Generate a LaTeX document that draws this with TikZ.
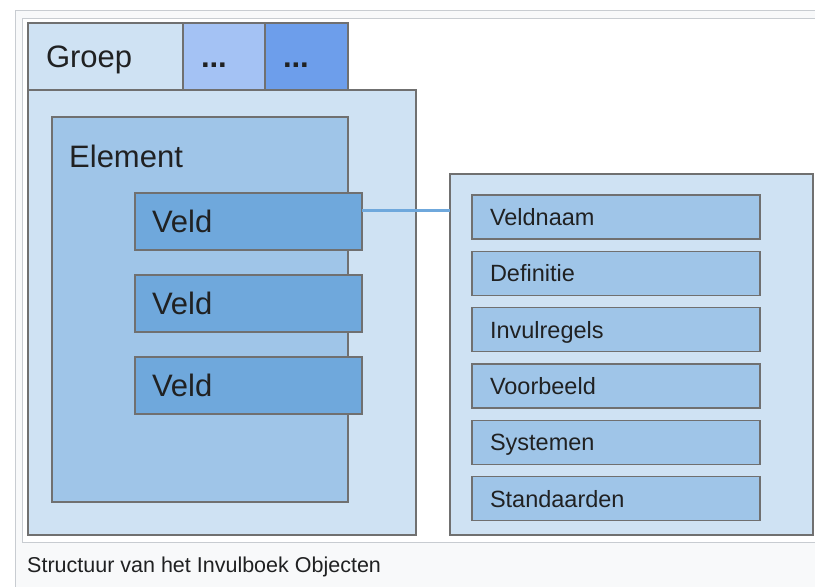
\documentclass[tikz,border=0pt]{standalone}
\usepackage{fontspec}
\setmainfont{Liberation Sans}
\usetikzlibrary{positioning}

\definecolor{lichtblauw}{HTML}{CFE2F3}
\definecolor{middenblauw}{HTML}{9FC5E8}
\definecolor{veldblauw}{HTML}{6FA8DC}
\definecolor{tabblauw}{HTML}{A4C2F4}
\definecolor{tabdonker}{HTML}{6D9EEB}
\definecolor{randgrijs}{HTML}{707070}
\definecolor{kaderlijn}{HTML}{C8CCD1}
\definecolor{kaderfond}{HTML}{F8F9FA}
\definecolor{tekst}{HTML}{202122}

\begin{document}
\begin{tikzpicture}[x=1pt,y=-1pt,
    blok/.style={draw=randgrijs, line width=1.4pt, rectangle, inner ysep=0pt, outer sep=0pt, text=tekst, align=left},
    groot/.style={blok, font=\fontsize{31}{31}\selectfont, text height=22pt, text depth=0pt},
    klein/.style={blok, font=\fontsize{23.5}{23.5}\selectfont, text height=17pt, text depth=0pt,
        fill=middenblauw, inner xsep=18pt, text width=252pt, minimum height=44pt},
    veld/.style={groot, fill=veldblauw, inner xsep=17pt, text width=193pt, minimum height=57pt},
    verbinding/.style={draw=veldblauw, line width=3pt}]
\useasboundingbox (0,0) rectangle (815,587);
\clip (0,0) rectangle (815,587);
\fill[white] (0,0) rectangle (815,587);

% kader en onderschrift
\draw[kaderlijn, fill=kaderfond, line width=1pt] (15.5,10.5) rectangle (900,700);
\draw[kaderlijn, fill=white, line width=1pt] (22.5,18.5) rectangle (900,542);
\node[anchor=base west, inner sep=0pt, text=tekst, font=\fontsize{21.5}{21.5}\selectfont] (onderschrift) at (27,572) {Structuur van het Invulboek Objecten};

% groep met tabs
\node[groot, fill=lichtblauw, anchor=north west, inner xsep=18pt, text width=119pt, minimum height=67pt] (groep) at (28,23) {Groep};
\node[groot, fill=tabblauw, right=0pt of groep, inner xsep=18pt, text width=46pt, minimum height=67pt] (tab1) {\textbf{...}};
\node[groot, fill=tabdonker, right=0pt of tab1, inner xsep=18pt, text width=47pt, minimum height=67pt] (tab2) {\textbf{...}};
\node[blok, fill=lichtblauw, anchor=north west, minimum width=388pt, minimum height=445pt] (groepvak) at (groep.south west) {};

% element met velden
\node[blok, fill=middenblauw, anchor=north west, minimum width=296pt, minimum height=385pt] (element) at ([xshift=24pt,yshift=-27pt]groepvak.north west) {};
\node[anchor=base west, inner sep=0pt, text=tekst, font=\fontsize{31}{31}\selectfont] (elementnaam) at ([xshift=17pt,yshift=-50pt]element.north west) {Element};
\node[veld, anchor=north west] (veld1) at ([xshift=83pt,yshift=-76pt]element.north west) {Veld};
\node[veld, below=25pt of veld1] (veld2) {Veld};
\node[veld, below=25pt of veld2] (veld3) {Veld};

% eigenschappen van een veld
\node[blok, fill=lichtblauw, anchor=north west, minimum width=363pt, minimum height=361pt] (paneel) at (450,174) {};
\node[klein, anchor=north west] (kenmerk1) at ([xshift=22pt,yshift=-21pt]paneel.north west) {Veldnaam};
\foreach \naam [count=\i from 2] in {Definitie,Invulregels,Voorbeeld,Systemen,Standaarden} {
    \pgfmathtruncatemacro{\vorige}{\i-1}
    \node[klein, below=12.3pt of kenmerk\vorige] (kenmerk\i) {\naam};
}

\coordinate (aftak) at ([yshift=11.5pt]veld1.east);
\draw[verbinding] (aftak) -- (aftak -| paneel.west);
\end{tikzpicture}
\end{document}
